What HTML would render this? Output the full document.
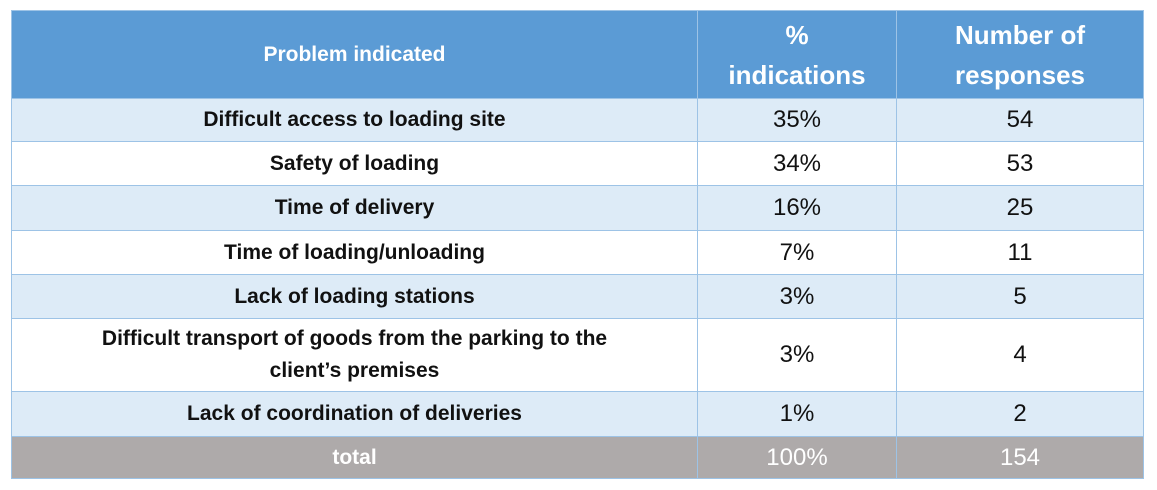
<!DOCTYPE html>
<html><head><meta charset="utf-8"><style>
body{margin:0;background:#fff;width:1157px;height:490px;overflow:hidden;font-family:"Liberation Sans",sans-serif}
table{position:absolute;left:11px;top:10px;border-collapse:collapse;table-layout:fixed;width:1132px}
td,th{border:1.5px solid #9DC3E6;text-align:center;padding:0;color:#111}
th{background:#5B9BD5;color:#fff;font-weight:bold}
th.c1{font-size:21px}
th.cn{font-size:26px;line-height:40px;font-weight:bold}
td.p{font-weight:bold;font-size:21px;line-height:30px}
td.n{font-size:24px}
tr.a td{background:#DDEBF7}
tr.b td{background:#fff}
tr.t td{background:#AEAAAA;color:#fff;font-size:24px}
tr.t td.p{font-weight:bold;font-size:21px}
</style></head><body>
<table>
<colgroup><col style="width:686px"><col style="width:199px"><col style="width:247px"></colgroup>
<tr style="height:88px"><th class="c1">Problem indicated</th><th class="cn">%<br>indications</th><th class="cn">Number of<br>responses</th></tr>
<tr class="a" style="height:43px"><td class="p">Difficult access to loading site</td><td class="n">35%</td><td class="n">54</td></tr>
<tr class="b" style="height:44px"><td class="p">Safety of loading</td><td class="n">34%</td><td class="n">53</td></tr>
<tr class="a" style="height:45px"><td class="p">Time of delivery</td><td class="n">16%</td><td class="n">25</td></tr>
<tr class="b" style="height:44px"><td class="p">Time of loading/unloading</td><td class="n">7%</td><td class="n">11</td></tr>
<tr class="a" style="height:44px"><td class="p">Lack of loading stations</td><td class="n">3%</td><td class="n">5</td></tr>
<tr class="b" style="height:73px"><td class="p" style="line-height:32px">Difficult transport of goods from the parking to the<br>client’s premises</td><td class="n">3%</td><td class="n">4</td></tr>
<tr class="a" style="height:45px"><td class="p">Lack of coordination of deliveries</td><td class="n">1%</td><td class="n">2</td></tr>
<tr class="t" style="height:42px"><td class="p">total</td><td>100%</td><td>154</td></tr>
</table>
</body></html>
